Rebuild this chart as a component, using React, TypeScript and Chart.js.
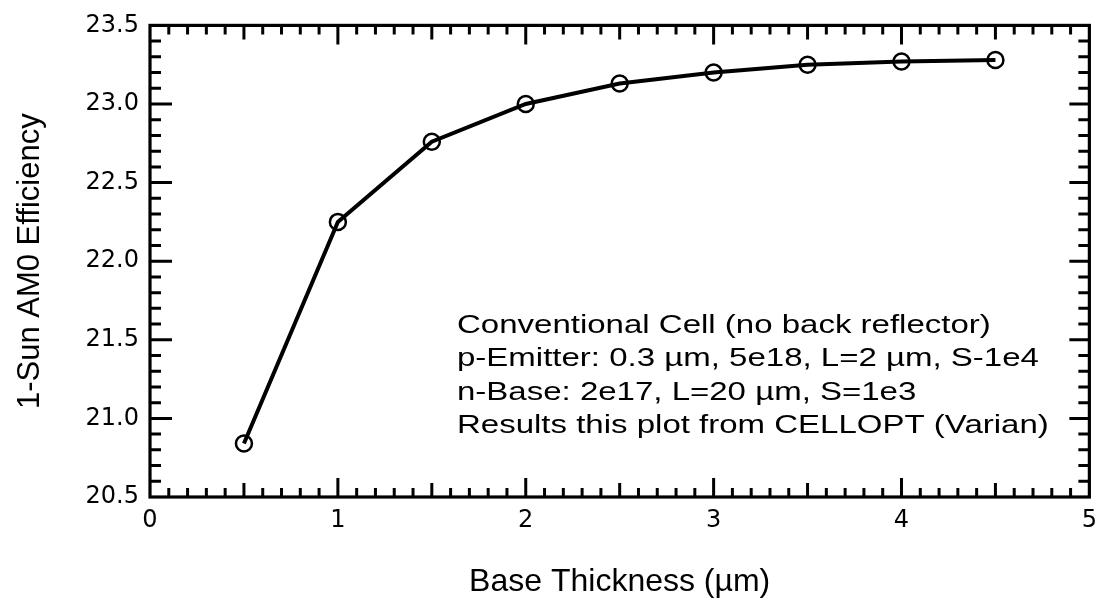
import React, { useEffect, useRef } from "react";
import { Chart, registerables } from "chart.js";

Chart.register(...registerables);

// ---- data ----
const thicknessUm = [0.5, 1.0, 1.5, 2.0, 2.5, 3.0, 3.5, 4.0, 4.5];
const efficiencyPct = [20.84, 22.25, 22.76, 23.0, 23.13, 23.2, 23.25, 23.27, 23.28];

const xTickValues = [0, 1, 2, 3, 4, 5];
const xTickLabels = ["0", "1", "2", "3", "4", "5"];
const yTickValues = [20.5, 21.0, 21.5, 22.0, 22.5, 23.0, 23.5];
const yTickLabels = ["20.5", "21.0", "21.5", "22.0", "22.5", "23.0", "23.5"];

const xTitle = "Base Thickness (µm)";
const yTitle = "1-Sun AM0 Efficiency";
const annotationLines = [
  "Conventional Cell (no back reflector)",
  "p-Emitter: 0.3 µm, 5e18, L=2 µm, S-1e4",
  "n-Base: 2e17, L=20 µm, S=1e3",
  "Results this plot from CELLOPT (Varian)",
];

const framePlugin = {
  id: "frameTicks",
  afterDatasetsDraw(chart: any) {
    const { ctx, chartArea: a, scales } = chart;
    const xs = scales.x;
    const ys = scales.y;
    ctx.save();
    ctx.strokeStyle = "#000";
    ctx.lineCap = "butt";
    ctx.lineWidth = 3;
    // x minor/major inward ticks (bottom and top)
    const xSteps = Math.round((xs.max - xs.min) * 10);
    for (let i = 1; i < xSteps; i++) {
      const px = xs.getPixelForValue(xs.min + i / 10);
      const len = i % 10 === 0 ? 19 : i % 5 === 0 ? 14 : 9;
      ctx.beginPath();
      ctx.moveTo(px, a.bottom);
      ctx.lineTo(px, a.bottom - len);
      ctx.moveTo(px, a.top);
      ctx.lineTo(px, a.top + len);
      ctx.stroke();
    }
    // y minor/major inward ticks (left and right)
    const ySteps = Math.round((ys.max - ys.min) * 10);
    for (let j = 1; j < ySteps; j++) {
      const py = ys.getPixelForValue(ys.min + j / 10);
      const major = j % 5 === 0;
      ctx.beginPath();
      ctx.moveTo(a.left, py);
      ctx.lineTo(a.left + (major ? 22 : 11), py);
      ctx.moveTo(a.right, py);
      ctx.lineTo(a.right - (major ? 20 : 11), py);
      ctx.stroke();
    }
    // frame
    ctx.lineWidth = 3.2;
    ctx.strokeRect(a.left, a.top, a.right - a.left, a.bottom - a.top);

    // annotation text (wide Helvetica-like lettering)
    ctx.fillStyle = "#000";
    ctx.font = "25px 'Liberation Sans', Arial, sans-serif";
    ctx.textAlign = "left";
    ctx.textBaseline = "alphabetic";
    const left = 457;
    const firstBaseline = 333;
    const lineGap = 33.3;
    annotationLines.forEach((t, k) => {
      ctx.save();
      ctx.translate(left, firstBaseline + k * lineGap);
      ctx.scale(1.32, 1);
      ctx.fillText(t, 0, 0);
      ctx.restore();
    });
    ctx.restore();
  },
};

export default function App() {
  const canvasRef = useRef<HTMLCanvasElement | null>(null);

  useEffect(() => {
    const canvas = canvasRef.current;
    if (!canvas) return;
    const tickFont = { family: "'DejaVu Sans', sans-serif", size: 24 };
    const xTitleFont = { family: "'Liberation Sans', Arial, sans-serif", size: 32 };
    const yTitleFont = { family: "'Liberation Sans', Arial, sans-serif", size: 31 };

    const chart = new Chart(canvas, {
      type: "scatter",
      data: {
        datasets: [
          {
            data: thicknessUm.map((x, i) => ({ x, y: efficiencyPct[i] })),
            showLine: true,
            borderColor: "#000",
            borderWidth: 4,
            pointRadius: 8,
            pointHoverRadius: 8,
            pointBorderWidth: 2.5,
            pointBorderColor: "#000",
            pointBackgroundColor: "rgba(0,0,0,0)",
            pointStyle: "circle",
            tension: 0,
          },
        ],
      },
      options: {
        animation: false,
        responsive: false,
        devicePixelRatio: 1,
        layout: { padding: { left: 0, top: 21, right: 7, bottom: 0 } },
        plugins: {
          legend: { display: false },
          tooltip: { enabled: false },
          title: { display: false },
        },
        scales: {
          x: {
            type: "linear",
            min: 0,
            max: 5,
            afterBuildTicks: (s: any) => {
              s.ticks = xTickValues.map((v) => ({ value: v }));
            },
            afterFit: (s: any) => {
              s.height = 108;
            },
            ticks: {
              callback: (_v: any, i: number) => xTickLabels[i],
              padding: 9,
              font: tickFont,
              color: "#000",
              maxRotation: 0,
              autoSkip: false,
            },
            grid: { display: false, drawTicks: false },
            border: { display: false },
            title: {
              display: true,
              text: xTitle,
              font: xTitleFont,
              color: "#000",
              padding: { top: 0, bottom: 4 },
            },
          },
          y: {
            type: "linear",
            min: 20.5,
            max: 23.5,
            afterBuildTicks: (s: any) => {
              s.ticks = yTickValues.map((v) => ({ value: v }));
            },
            afterFit: (s: any) => {
              s.width = 150;
            },
            ticks: {
              callback: (_v: any, i: number) => yTickLabels[i],
              padding: 11,
              font: tickFont,
              color: "#000",
              autoSkip: false,
            },
            grid: { display: false, drawTicks: false },
            border: { display: false },
            title: {
              display: true,
              text: yTitle,
              font: yTitleFont,
              color: "#000",
              padding: { top: 12, bottom: 0 },
            },
          },
        },
      },
      plugins: [framePlugin],
    } as any);

    return () => {
      chart.destroy();
    };
  }, []);

  return (
    <div style={{ position: "fixed", left: 0, top: 0, width: 1106, height: 605, background: "#fff" }}>
      <canvas ref={canvasRef} width={1106} height={605} style={{ width: 1106, height: 605, display: "block" }} />
    </div>
  );
}
